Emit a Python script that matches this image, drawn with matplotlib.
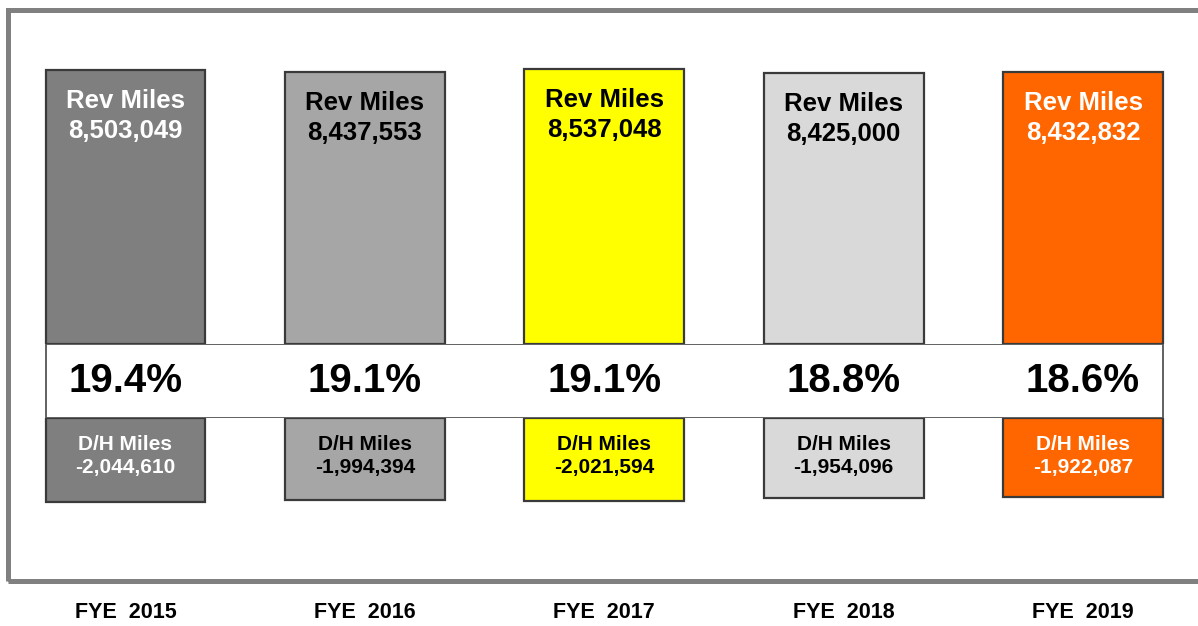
# revenue miles vs deadhead miles, FYE 2015-2019
import matplotlib.pyplot as plt
from matplotlib.patches import Rectangle

plt.rcParams['font.family'] = ['Liberation Sans', 'DejaVu Sans']

years = ['FYE  2015', 'FYE  2016', 'FYE  2017', 'FYE  2018', 'FYE  2019']
rev_miles = [8503049, 8437553, 8537048, 8425000, 8432832]
dh_miles = [-2044610, -1994394, -2021594, -1954096, -1922087]
dh_pct = ['19.4%', '19.1%', '19.1%', '18.8%', '18.6%']
colors = ['#7f7f7f', '#a6a6a6', '#ffff00', '#d9d9d9', '#ff6600']
text_colors = ['white', 'black', 'black', 'black', 'white']

W, H = 1198, 626
fig = plt.figure(figsize=(W / 100, H / 100), dpi=100)

x = list(range(len(years)))
bw = 0.668
ax_left = 5.8 / W
ax_w = 1196.9 / W


def px_axes(top, bottom):
    return fig.add_axes([ax_left, 1 - bottom / H, ax_w, (bottom - top) / H])


# outer grey frame
fig.patches.append(Rectangle((7.5 / W, 1 - 580.5 / H), 1.05, (580.5 - 9.5) / H,
                             transform=fig.transFigure, fill=False,
                             edgecolor='#808080', linewidth=3.6, zorder=0))

# upper part: revenue miles
ax_top = px_axes(8, 344)
ax_top.bar(x, [v / 1e6 for v in rev_miles], width=bw, color=colors,
           edgecolor='#3a3a3a', linewidth=1.6)
ax_top.set_ylim(0, 10.43)
for i, v in enumerate(rev_miles):
    ax_top.annotate('Rev Miles', (i, v / 1e6), xytext=(0, -31),
                    textcoords='offset pixels', ha='center', va='center',
                    fontsize=18.5, fontweight='bold', color=text_colors[i])
    ax_top.annotate(f'{v:,}', (i, v / 1e6), xytext=(0, -61),
                    textcoords='offset pixels', ha='center', va='center',
                    fontsize=18.5, fontweight='bold', color=text_colors[i])

# lower part: deadhead miles
ax_bot = px_axes(418, 583)
ax_bot.bar(x, [v / 1e6 for v in dh_miles], width=bw, color=colors,
           edgecolor='#3a3a3a', linewidth=1.6)
ax_bot.set_ylim(-4.016, 0)
for i, v in enumerate(dh_miles):
    ax_bot.text(i, 0.842, 'D/H Miles', transform=ax_bot.get_xaxis_transform(),
                ha='center', va='center', fontsize=15, fontweight='bold',
                color=text_colors[i])
    ax_bot.text(i, 0.697, f'{v:,}', transform=ax_bot.get_xaxis_transform(),
                ha='center', va='center', fontsize=15, fontweight='bold',
                color=text_colors[i])

# middle white band with deadhead percentage
ax_mid = px_axes(344, 418)
ax_mid.add_patch(Rectangle((-bw / 2, 0), 4 + bw, 1, facecolor='white',
                           edgecolor='#555555', linewidth=1.3))
ax_mid.set_ylim(0, 1)
for i, p in enumerate(dh_pct):
    ax_mid.text(i, 0.5, p, ha='center', va='center', fontsize=29,
                fontweight='bold', color='black')

for ax in (ax_top, ax_bot, ax_mid):
    ax.set_xlim(-0.5, 4.5)
    ax.axis('off')

# year labels under the frame
for i, yr in enumerate(years):
    ax_bot.text(i, -0.176, yr, transform=ax_bot.get_xaxis_transform(),
                ha='center', va='center', fontsize=15.5, fontweight='bold',
                color='black', clip_on=False)

fig.savefig('out.png', dpi=100)
